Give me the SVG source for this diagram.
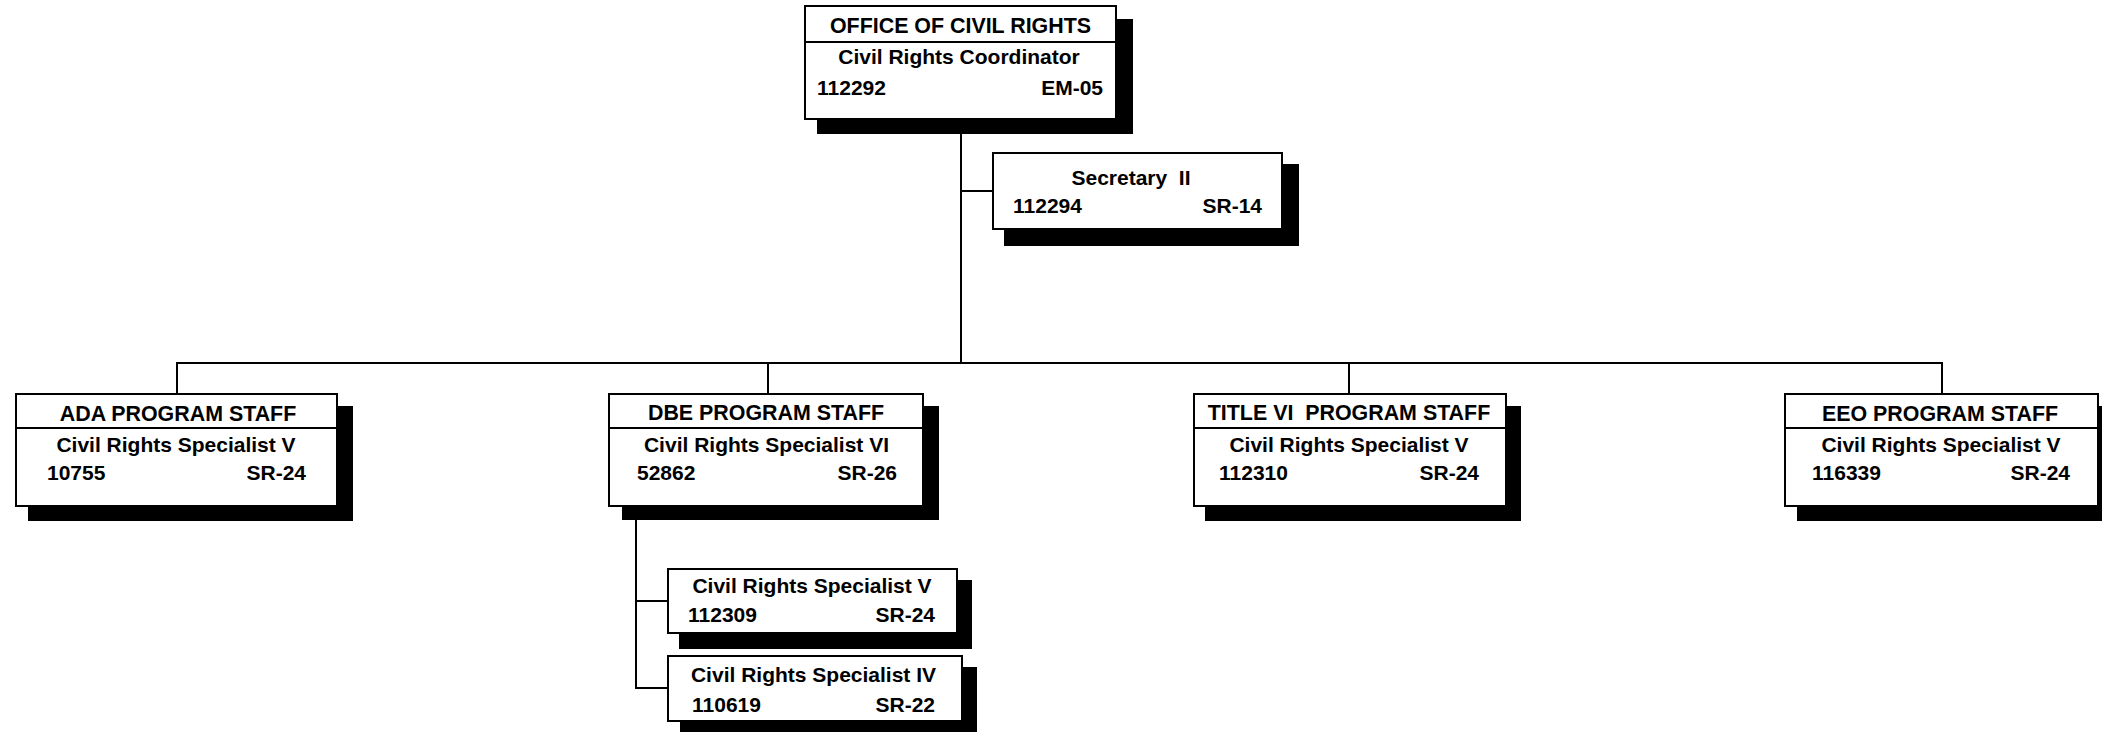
<svg xmlns="http://www.w3.org/2000/svg" width="2102" height="732" viewBox="0 0 2102 732">
<style>
.bg{fill:#ffffff}
.box{fill:#ffffff;stroke:#000000;stroke-width:2}
.sh{fill:#000000}
.ln{stroke:#000000;stroke-width:2;fill:none}
text{font-family:"Liberation Sans",Arial,sans-serif;font-weight:bold;font-size:21px;fill:#000000;white-space:pre}
.h{font-size:21.4px}
.c{text-anchor:middle}
.e{text-anchor:end}
</style>
<rect class="bg" x="0" y="0" width="2102" height="732"/>
<g id="connectors">
<path class="ln" d="M961,120 V363"/>
<path class="ln" d="M961,191 H992"/>
<path class="ln" d="M177,393 V363 H1942 V393"/>
<path class="ln" d="M768,363 V393"/>
<path class="ln" d="M1349,363 V393"/>
<path class="ln" d="M636,506 V688 H667"/>
<path class="ln" d="M636,601 H667"/>
</g>
<g id="office">
<rect class="sh" x="817" y="19" width="316" height="115"/>
<rect class="box" x="805" y="6" width="311" height="113"/>
<path class="ln" d="M805,42 H1116"/>
<text class="c h" x="960.5" y="33">OFFICE OF CIVIL RIGHTS</text>
<text class="c" x="959" y="64">Civil Rights Coordinator</text>
<text x="817" y="95">112292</text>
<text class="e" x="1103" y="95">EM-05</text>
</g>
<g id="secretary">
<rect class="sh" x="1004" y="164" width="295" height="82"/>
<rect class="box" x="993" y="153" width="289" height="76"/>
<text class="c" x="1131" y="185">Secretary  II</text>
<text x="1013" y="213">112294</text>
<text class="e" x="1262" y="213">SR-14</text>
</g>
<g id="ada">
<rect class="sh" x="28" y="406" width="325" height="115"/>
<rect class="box" x="16" y="394" width="321" height="112"/>
<path class="ln" d="M16,428 H337"/>
<text class="c h" x="178" y="421">ADA PROGRAM STAFF</text>
<text class="c" x="176" y="452">Civil Rights Specialist V</text>
<text x="47" y="480">10755</text>
<text class="e" x="306" y="480">SR-24</text>
</g>
<g id="dbe">
<rect class="sh" x="622" y="406" width="317" height="114"/>
<rect class="box" x="609" y="394" width="314" height="112"/>
<path class="ln" d="M609,428 H923"/>
<text class="c h" x="766" y="420">DBE PROGRAM STAFF</text>
<text class="c" x="766.5" y="452">Civil Rights Specialist VI</text>
<text x="637" y="480">52862</text>
<text class="e" x="897" y="480">SR-26</text>
</g>
<g id="dbe-v">
<rect class="sh" x="679" y="580" width="293" height="69"/>
<rect class="box" x="668" y="569" width="289" height="64"/>
<text class="c" x="812" y="593">Civil Rights Specialist V</text>
<text x="688" y="622">112309</text>
<text class="e" x="935" y="622">SR-24</text>
</g>
<g id="dbe-iv">
<rect class="sh" x="680" y="667" width="297" height="65"/>
<rect class="box" x="668" y="656" width="294" height="65"/>
<text class="c" x="813.5" y="682">Civil Rights Specialist IV</text>
<text x="692" y="712">110619</text>
<text class="e" x="935" y="712">SR-22</text>
</g>
<g id="titlevi">
<rect class="sh" x="1205" y="406" width="316" height="115"/>
<rect class="box" x="1194" y="394" width="312" height="112"/>
<path class="ln" d="M1194,428 H1506"/>
<text class="c h" x="1349" y="420">TITLE VI  PROGRAM STAFF</text>
<text class="c" x="1349" y="452">Civil Rights Specialist V</text>
<text x="1219" y="480">112310</text>
<text class="e" x="1479" y="480">SR-24</text>
</g>
<g id="eeo">
<rect class="sh" x="1797" y="406" width="320" height="115"/>
<rect class="box" x="1785" y="394" width="313" height="112"/>
<path class="ln" d="M1785,428 H2098"/>
<text class="c h" x="1940" y="421">EEO PROGRAM STAFF</text>
<text class="c" x="1941" y="452">Civil Rights Specialist V</text>
<text x="1812" y="480">116339</text>
<text class="e" x="2070" y="480">SR-24</text>
</g>
</svg>
